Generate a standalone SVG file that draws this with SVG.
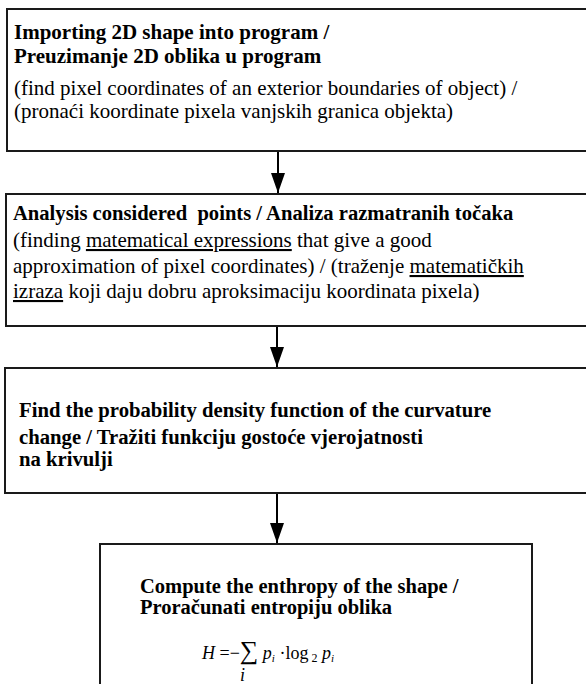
<svg xmlns="http://www.w3.org/2000/svg" width="586" height="684" viewBox="0 0 586 684">
<style>
.box{fill:#fff;stroke:#1a1a1a;stroke-width:2}
.b{font-family:"Liberation Serif","Times New Roman",serif;font-weight:bold;font-size:21px;fill:#000;white-space:pre}
.n{font-family:"Liberation Serif","Times New Roman",serif;font-size:21px;fill:#000;white-space:pre}
.u{text-decoration:underline}
.m{font-family:"Liberation Serif","Times New Roman",serif;font-size:18px;fill:#000}
.conn{stroke:#000;stroke-width:2;fill:none}
</style>
<defs>
<marker id="ah" viewBox="0 0 20 14" refX="20" refY="7" markerWidth="20" markerHeight="14" markerUnits="userSpaceOnUse" orient="auto">
<path d="M0,0 L20,7 L0,14 Z" fill="#000"/>
</marker>
</defs>
<rect width="586" height="684" fill="#fff"/>
<g id="connectors">
<line class="conn" x1="278" y1="151" x2="278" y2="193" marker-end="url(#ah)"/>
<line class="conn" x1="277" y1="326" x2="277" y2="367" marker-end="url(#ah)"/>
<line class="conn" x1="277" y1="493" x2="277" y2="543" marker-end="url(#ah)"/>
</g>
<g id="node1">
<rect class="box" x="7" y="9" width="600" height="142"/>
<text class="b" x="14" y="39">Importing 2D shape into program /</text>
<text class="b" x="14" y="63">Preuzimanje 2D oblika u program</text>
<text class="n" x="14" y="95">(find pixel coordinates of an exterior boundaries of object) /</text>
<text class="n" x="14" y="118">(pronaći koordinate pixela vanjskih granica objekta)</text>
</g>
<g id="node2">
<rect class="box" x="6" y="194" width="600" height="132"/>
<text class="b" x="13" y="220" style="font-size:20.6px">Analysis considered  points / Analiza razmatranih točaka</text>
<text class="n" x="13" y="247">(finding <tspan class="u">matematical expressions</tspan> that give a good</text>
<text class="n" x="13" y="273">approximation of pixel coordinates) / (traženje <tspan class="u">matematičkih</tspan></text>
<text class="n" x="13" y="298"><tspan class="u">izraza</tspan> koji daju dobru aproksimaciju koordinata pixela)</text>
</g>
<g id="node3">
<rect class="box" x="5" y="368" width="600" height="125"/>
<text class="b" x="19" y="417" style="font-size:20.7px">Find the probability density function of the curvature</text>
<text class="b" x="19" y="444" style="font-size:20.7px">change / Tražiti funkciju gostoće vjerojatnosti</text>
<text class="b" x="19" y="466" style="font-size:20.7px">na krivulji</text>
</g>
<g id="node4">
<rect class="box" x="100" y="544" width="432" height="160"/>
<text class="b" x="140" y="593" style="font-size:20.5px">Compute the enthropy of the shape /</text>
<text class="b" x="140" y="614" style="font-size:20.5px">Proračunati entropiju oblika</text>
<text class="m" x="202" y="659"><tspan font-style="italic">H</tspan> =−<tspan font-size="26">∑</tspan> <tspan font-style="italic">p</tspan><tspan font-style="italic" font-size="11" dy="3">i</tspan><tspan dy="-3"> ·log</tspan><tspan font-size="12" dy="3"> 2</tspan><tspan dy="-3"> </tspan><tspan font-style="italic">p</tspan><tspan font-style="italic" font-size="11" dy="3">i</tspan></text>
<text class="m" x="240" y="681" font-size="11" font-style="italic">i</text>
</g>
</svg>
